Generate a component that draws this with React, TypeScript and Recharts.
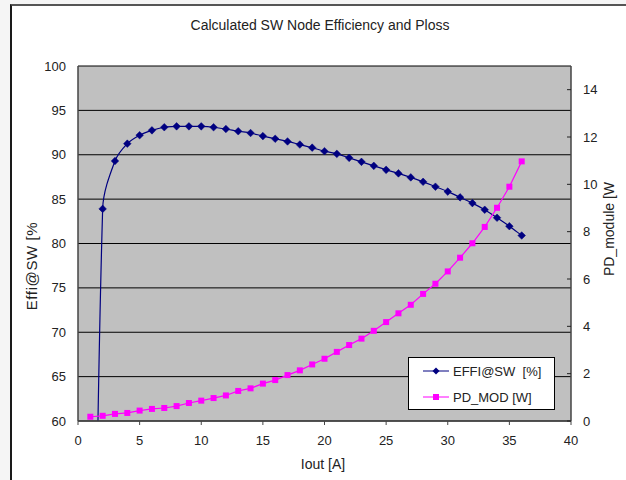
import React from 'react';
import { LineChart, Line, XAxis, YAxis, CartesianGrid, Legend } from 'recharts';

const iout = [1, 2, 3, 4, 5, 6, 7, 8, 9, 10, 11, 12, 13, 14, 15, 16, 17, 18, 19, 20, 21, 22, 23, 24, 25, 26, 27, 28, 29, 30, 31, 32, 33, 34, 35, 36];
const effiSW = [-6, 83.9, 89.3, 91.25, 92.2, 92.75, 93.1, 93.2, 93.2, 93.2, 93.1, 92.9, 92.65, 92.45, 92.1, 91.8, 91.5, 91.15, 90.8, 90.4, 90.1, 89.65, 89.2, 88.75, 88.3, 87.9, 87.45, 86.95, 86.4, 85.85, 85.2, 84.55, 83.8, 82.9, 81.95, 80.9];
const pdMod = [0.18, 0.22, 0.3, 0.34, 0.44, 0.51, 0.55, 0.63, 0.76, 0.86, 0.97, 1.08, 1.27, 1.38, 1.58, 1.73, 1.94, 2.14, 2.39, 2.63, 2.92, 3.21, 3.48, 3.81, 4.18, 4.55, 4.91, 5.37, 5.8, 6.32, 6.9, 7.51, 8.2, 9.01, 9.9, 10.97];
const xTicks = [0, 5, 10, 15, 20, 25, 30, 35, 40];
const leftTicks = [60, 65, 70, 75, 80, 85, 90, 95, 100];
const rightTicks = [0, 2, 4, 6, 8, 10, 12, 14];

const TITLE = 'Calculated SW Node Efficiency and Ploss';
const X_LABEL = 'Iout [A]';
const LEFT_LABEL = 'Effi@SW [%';
const RIGHT_LABEL = 'PD_module [W';
const NAME_EFFI = 'EFFI@SW  [%]';
const NAME_PD = 'PD_MOD [W]';

const data = iout.map((x, i) => ({ x, effi: effiSW[i], pd: pdMod[i] }));

const FONT = '"Liberation Sans", Arial, sans-serif';
const TEXT = '#222';
const NAVY = '#000080';
const MAGENTA = '#FF00FF';

// Excel-like smoothed curve: bezier with control points weighted by neighbouring segment lengths
function excelCurve(context: any) {
  let pts: number[][] = [];
  const dist = (a: number[], b: number[]) => Math.hypot(a[0] - b[0], a[1] - b[1]);
  return {
    areaStart() {},
    areaEnd() {},
    lineStart() {
      pts = [];
    },
    point(x: number, y: number) {
      pts.push([+x, +y]);
    },
    lineEnd() {
      const n = pts.length;
      if (!n) return;
      context.moveTo(pts[0][0], pts[0][1]);
      for (let i = 0; i < n - 1; i++) {
        const p0 = pts[Math.max(0, i - 1)];
        const p1 = pts[i];
        const p2 = pts[i + 1];
        const p3 = pts[Math.min(n - 1, i + 2)];
        const d01 = dist(p0, p1);
        const d12 = dist(p1, p2);
        const d23 = dist(p2, p3);
        const f1 = d01 + d12 > 0 ? d12 / (d01 + d12) / 3 : 0;
        const f2 = d12 + d23 > 0 ? d12 / (d12 + d23) / 3 : 0;
        context.bezierCurveTo(
          p1[0] + (p2[0] - p0[0]) * f1,
          p1[1] + (p2[1] - p0[1]) * f1,
          p2[0] - (p3[0] - p1[0]) * f2,
          p2[1] - (p3[1] - p1[1]) * f2,
          p2[0],
          p2[1]
        );
      }
    },
  };
}

const DiamondDot = (props: any) => {
  const { cx, cy, index, value } = props;
  if (cx == null || cy == null || (typeof value === 'number' && value < 60)) return <g key={`dd-${index}`} />;
  const r = 3.8;
  return (
    <path
      key={`dd-${index}`}
      d={`M${cx},${cy - r}L${cx + r},${cy}L${cx},${cy + r}L${cx - r},${cy}Z`}
      fill={NAVY}
      stroke={NAVY}
      strokeWidth={0.5}
    />
  );
};

const SquareDot = (props: any) => {
  const { cx, cy, index } = props;
  if (cx == null || cy == null) return <g key={`sd-${index}`} />;
  const r = 3;
  return <rect key={`sd-${index}`} x={cx - r} y={cy - r} width={2 * r} height={2 * r} fill={MAGENTA} />;
};

const LegendBox = (props: any) => {
  const payload = props.payload || [];
  return (
    <div
      style={{
        width: 147,
        height: 53,
        background: '#fff',
        border: '1px solid #000',
        boxSizing: 'border-box',
        fontFamily: FONT,
        fontSize: 13,
        color: TEXT,
      }}
    >
      {payload.map((entry: any, i: number) => (
        <div key={i} style={{ display: 'flex', alignItems: 'center', height: 26, paddingLeft: 14 }}>
          <svg width={26} height={10} style={{ marginRight: 4 }}>
            <line x1={0} y1={5} x2={26} y2={5} stroke={entry.color} strokeWidth={1} />
            {entry.dataKey === 'effi' ? (
              <path d="M13,1.5L16.5,5L13,8.5L9.5,5Z" fill={entry.color} />
            ) : (
              <rect x={10} y={2} width={6} height={6} fill={entry.color} />
            )}
          </svg>
          <span style={{ whiteSpace: 'pre' }}>{entry.value}</span>
        </div>
      ))}
    </div>
  );
};

const labelStyle = (left: number, top: number, rotate: boolean, extra: any = {}) => ({
  position: 'absolute' as const,
  left,
  top,
  transform: rotate ? 'translate(-50%, -50%) rotate(-90deg)' : 'translate(-50%, -50%)',
  whiteSpace: 'pre' as const,
  fontFamily: FONT,
  fontSize: 14,
  color: TEXT,
  ...extra,
});

export default function App() {
  return (
    <div style={{ position: 'absolute', left: 0, top: 0, width: 626, height: 480, background: '#f5f5f5', overflow: 'hidden' }}>
      <div
        style={{
          position: 'absolute',
          left: 10,
          top: 4,
          width: 640,
          height: 500,
          background: '#fff',
          borderLeft: '2px solid #1a1a1a',
          borderTop: '2px solid #555',
        }}
      />
      <div style={{ position: 'absolute', left: 0, top: 0 }}>
        <LineChart width={626} height={480} data={data} margin={{ top: 66, right: 0, bottom: 0, left: 0 }}>
          <CartesianGrid yAxisId="left" vertical={false} stroke="#000" fill="#c0c0c0" strokeWidth={1} />
          <XAxis
            type="number"
            dataKey="x"
            domain={[0, 40]}
            ticks={xTicks}
            height={59}
            tickSize={4}
            tickMargin={11}
            axisLine={{ stroke: '#444', strokeWidth: 1.5 }}
            tickLine={{ stroke: '#444' }}
            tick={{ fill: TEXT, fontSize: 13, fontFamily: FONT }}
          />
          <YAxis
            yAxisId="left"
            domain={[60, 100]}
            ticks={leftTicks}
            allowDataOverflow
            width={78}
            tickSize={0}
            tickMargin={12}
            axisLine={{ stroke: '#444', strokeWidth: 1.5 }}
            tickLine={false}
            tick={{ fill: TEXT, fontSize: 13, fontFamily: FONT }}
          />
          <YAxis
            yAxisId="right"
            orientation="right"
            domain={[0, 15]}
            ticks={rightTicks}
            allowDataOverflow
            width={55}
            tickSize={-4}
            tickMargin={16}
            axisLine={{ stroke: '#444', strokeWidth: 1.5 }}
            tickLine={{ stroke: '#222' }}
            tick={{ fill: TEXT, fontSize: 13, fontFamily: FONT }}
          />
          <Legend
            layout="vertical"
            align="center"
            verticalAlign="middle"
            content={LegendBox}
            wrapperStyle={{ position: 'absolute', left: 408, top: 357, width: 147, height: 53 }}
          />
          <Line
            yAxisId="left"
            dataKey="effi"
            name={NAME_EFFI}
            type={excelCurve as any}
            stroke={NAVY}
            strokeWidth={1.2}
            dot={DiamondDot}
            activeDot={false}
            isAnimationActive={false}
          />
          <Line
            yAxisId="right"
            dataKey="pd"
            name={NAME_PD}
            type="linear"
            stroke={MAGENTA}
            strokeWidth={1.2}
            dot={SquareDot}
            activeDot={false}
            isAnimationActive={false}
          />
        </LineChart>
      </div>
      <div style={labelStyle(320, 25, false)}>{TITLE}</div>
      <div style={labelStyle(323, 464, false)}>{X_LABEL}</div>
      <div style={labelStyle(31, 266, true, { fontSize: 15, letterSpacing: 0.6 })}>{LEFT_LABEL}</div>
      <div style={labelStyle(609, 229, true)}>{RIGHT_LABEL}</div>
    </div>
  );
}
